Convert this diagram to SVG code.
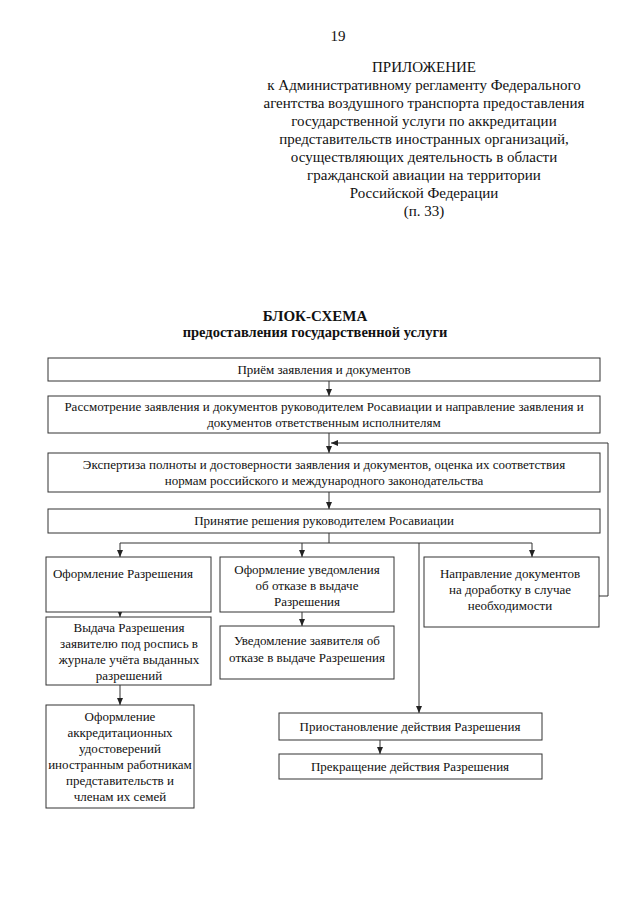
<svg xmlns="http://www.w3.org/2000/svg" width="640" height="905" viewBox="0 0 640 905">
<style>
text{font-family:"Liberation Serif","Times New Roman",serif;fill:#111}
.h{font-size:15px;text-anchor:middle}
.t{font-size:15px;font-weight:bold;text-anchor:middle}
.b{font-size:13px;text-anchor:middle}
rect{fill:#fff;stroke:#333;stroke-width:1}
.c path{fill:none;stroke:#333;stroke-width:1}
</style>
<defs>
<marker id="a" markerWidth="8" markerHeight="8" refX="7" refY="4" orient="auto" markerUnits="userSpaceOnUse">
<path d="M0,1 L7,4 L0,7 z" fill="#222"/>
</marker>
</defs>
<rect x="0" y="0" width="640" height="905" style="fill:#fff;stroke:none"/>
<g id="header">
<text x="338" y="41" class="h">19</text>
<text x="424" y="72" class="h">ПРИЛОЖЕНИЕ</text>
<text x="424" y="90" class="h">к Административному регламенту Федерального</text>
<text x="424" y="108" class="h">агентства воздушного транспорта предоставления</text>
<text x="424" y="126" class="h">государственной услуги по аккредитации</text>
<text x="424" y="144" class="h">представительств иностранных организаций,</text>
<text x="424" y="162" class="h">осуществляющих деятельность в области</text>
<text x="424" y="180" class="h">гражданской авиации на территории</text>
<text x="424" y="198" class="h">Российской Федерации</text>
<text x="424" y="216" class="h">(п. 33)</text>
</g>
<g id="title">
<text x="315" y="321" class="t">БЛОК-СХЕМА</text>
<text x="315" y="337" class="t" style="font-size:14.5px">предоставления государственной услуги</text>
</g>
<g class="c" id="connectors">
<path d="M329,381 V396" marker-end="url(#a)"/>
<path d="M329,433 V453" marker-end="url(#a)"/>
<path d="M599,596 H608 V443 H331" marker-end="url(#a)"/>
<path d="M329,492 V509" marker-end="url(#a)"/>
<path d="M329,533 V543"/>
<path d="M120,543 H532"/>
<path d="M120,543 V557" marker-end="url(#a)"/>
<path d="M302,543 V557" marker-end="url(#a)"/>
<path d="M532,543 V557" marker-end="url(#a)"/>
<path d="M419,543 V713" marker-end="url(#a)"/>
<path d="M120,612 V617" marker-end="url(#a)"/>
<path d="M302,612 V626" marker-end="url(#a)"/>
<path d="M120,685 V705" marker-end="url(#a)"/>
<path d="M380,740 V754" marker-end="url(#a)"/>
</g>
<g id="n1"><rect x="48" y="358" width="552" height="23"/>
<text x="324" y="374" class="b">Приём заявления и документов</text></g>
<g id="n2"><rect x="48" y="396" width="552" height="37"/>
<text x="324" y="411" class="b">Рассмотрение заявления и документов руководителем Росавиации и направление заявления и</text>
<text x="324" y="427" class="b">документов ответственным исполнителям</text></g>
<g id="n3"><rect x="48" y="453" width="552" height="39"/>
<text x="324" y="469" class="b">Экспертиза  полноты и достоверности заявления и документов, оценка их соответствия</text>
<text x="324" y="485" class="b">нормам российского и международного законодательства</text></g>
<g id="n4"><rect x="48" y="509" width="552" height="24"/>
<text x="324" y="525" class="b">Принятие решения руководителем Росавиации</text></g>
<g id="n5"><rect x="46" y="557" width="165" height="55"/>
<text x="123" y="578" class="b">Оформление Разрешения</text></g>
<g id="n6"><rect x="220" y="557" width="174" height="55"/>
<text x="307" y="574" class="b">Оформление уведомления</text>
<text x="307" y="590" class="b">об отказе в выдаче</text>
<text x="307" y="606" class="b">Разрешения</text></g>
<g id="n7"><rect x="424" y="557" width="175" height="70"/>
<text x="510" y="578" class="b">Направление документов</text>
<text x="510" y="594" class="b">на доработку в случае</text>
<text x="510" y="610" class="b">необходимости</text></g>
<g id="n8"><rect x="46" y="617" width="165" height="68"/>
<text x="129" y="632" class="b">Выдача Разрешения</text>
<text x="129" y="648" class="b">заявителю под роспись в</text>
<text x="129" y="664" class="b">журнале учёта выданных</text>
<text x="129" y="680" class="b">разрешений</text></g>
<g id="n9"><rect x="220" y="626" width="174" height="53"/>
<text x="307" y="645" class="b">Уведомление заявителя об</text>
<text x="307" y="662" class="b">отказе в выдаче Разрешения</text></g>
<g id="n10"><rect x="46" y="705" width="148" height="103"/>
<text x="120" y="721" class="b">Оформление</text>
<text x="120" y="737" class="b">аккредитационных</text>
<text x="120" y="753" class="b">удостоверений</text>
<text x="120" y="769" class="b">иностранным работникам</text>
<text x="120" y="785" class="b">представительств и</text>
<text x="120" y="801" class="b">членам их семей</text></g>
<g id="n11"><rect x="279" y="713" width="263" height="27"/>
<text x="410" y="731" class="b">Приостановление действия Разрешения</text></g>
<g id="n12"><rect x="279" y="754" width="263" height="25"/>
<text x="410" y="771" class="b">Прекращение действия Разрешения</text></g>
</svg>
